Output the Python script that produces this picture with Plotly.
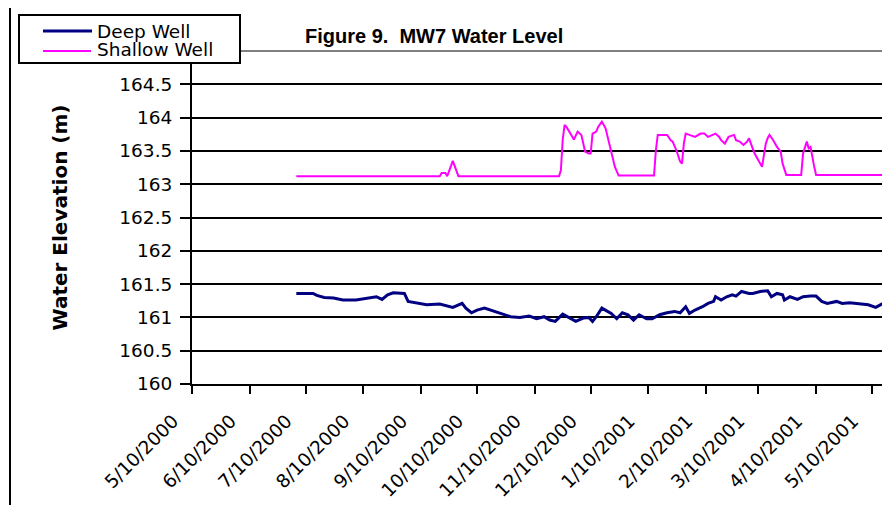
import plotly.graph_objects as go

# ---------------- data ----------------
deep_dates = [
    "2000-07-05", "2000-07-14", "2000-07-16", "2000-07-20", "2000-07-25", "2000-07-30",
    "2000-08-06", "2000-08-12", "2000-08-17", "2000-08-20", "2000-08-23", "2000-08-26",
    "2000-09-01", "2000-09-03", "2000-09-09", "2000-09-13", "2000-09-20", "2000-09-25",
    "2000-09-27", "2000-10-02", "2000-10-04", "2000-10-07", "2000-10-10", "2000-10-14",
    "2000-10-17", "2000-10-22", "2000-10-28", "2000-11-02", "2000-11-07", "2000-11-11",
    "2000-11-15", "2000-11-18", "2000-11-21", "2000-11-25", "2000-11-29", "2000-12-02",
    "2000-12-06", "2000-12-09", "2000-12-11", "2000-12-13", "2000-12-16", "2000-12-19",
    "2000-12-21", "2000-12-24", "2000-12-27", "2000-12-30", "2001-01-02", "2001-01-05",
    "2001-01-09", "2001-01-12", "2001-01-16", "2001-01-20", "2001-01-24", "2001-01-27",
    "2001-01-30", "2001-02-01", "2001-02-04", "2001-02-08", "2001-02-11", "2001-02-14",
    "2001-02-15", "2001-02-18", "2001-02-21", "2001-02-24", "2001-02-26", "2001-03-01",
    "2001-03-05", "2001-03-07", "2001-03-11", "2001-03-15", "2001-03-17", "2001-03-20",
    "2001-03-23", "2001-03-24", "2001-03-27", "2001-03-31", "2001-04-03", "2001-04-07",
    "2001-04-10", "2001-04-13", "2001-04-16", "2001-04-21", "2001-04-24", "2001-04-28",
    "2001-05-01", "2001-05-05", "2001-05-08", "2001-05-12", "2001-05-16", "2001-05-20",
]
deep_level = [
    161.36, 161.36, 161.33, 161.30, 161.29, 161.26,
    161.26, 161.29, 161.31, 161.27, 161.34, 161.37,
    161.36, 161.24, 161.21, 161.19, 161.20, 161.16,
    161.15, 161.21, 161.14, 161.07, 161.11, 161.14,
    161.11, 161.06, 161.01, 161.00, 161.02, 160.98,
    161.01, 160.96, 160.94, 161.05, 160.99, 160.94,
    160.99, 161.00, 160.94, 161.01, 161.14, 161.09,
    161.06, 160.98, 161.07, 161.04, 160.96, 161.04,
    160.98, 160.98, 161.04, 161.07, 161.09, 161.07,
    161.16, 161.06, 161.11, 161.16, 161.21, 161.24,
    161.31, 161.26, 161.31, 161.34, 161.32, 161.39,
    161.36, 161.36, 161.39, 161.40, 161.31, 161.36,
    161.34, 161.26, 161.31, 161.27, 161.31, 161.32,
    161.32, 161.24, 161.21, 161.24, 161.21, 161.22,
    161.21, 161.19, 161.19, 161.15, 161.21, 161.21,
]

shallow_dates = [
    "2000-07-05", "2000-09-20", "2000-09-21", "2000-09-23", "2000-09-24", "2000-09-27",
    "2000-09-30", "2000-11-23", "2000-11-24", "2000-11-25", "2000-11-26", "2000-11-27",
    "2000-12-01", "2000-12-03", "2000-12-05", "2000-12-07", "2000-12-09", "2000-12-10",
    "2000-12-11", "2000-12-13", "2000-12-14", "2000-12-16", "2000-12-18", "2000-12-20",
    "2000-12-21", "2000-12-23", "2000-12-25", "2001-01-13", "2001-01-14", "2001-01-15",
    "2001-01-20", "2001-01-22", "2001-01-23", "2001-01-25", "2001-01-27", "2001-01-28",
    "2001-01-29", "2001-01-30", "2001-02-01", "2001-02-04", "2001-02-07", "2001-02-09",
    "2001-02-11", "2001-02-13", "2001-02-15", "2001-02-17", "2001-02-18", "2001-02-20",
    "2001-02-22", "2001-02-25", "2001-02-26", "2001-02-28", "2001-03-02", "2001-03-04",
    "2001-03-05", "2001-03-06", "2001-03-08", "2001-03-10", "2001-03-12", "2001-03-13",
    "2001-03-14", "2001-03-15", "2001-03-16", "2001-03-18", "2001-03-20", "2001-03-22",
    "2001-03-23", "2001-03-25", "2001-04-02", "2001-04-03", "2001-04-05", "2001-04-06",
    "2001-04-07", "2001-04-09", "2001-04-10", "2001-05-20",
]
shallow_level = [
    163.12, 163.12, 163.17, 163.17, 163.12, 163.35,
    163.12, 163.12, 163.21, 163.67, 163.89, 163.86,
    163.67, 163.79, 163.74, 163.49, 163.46, 163.46,
    163.76, 163.79, 163.86, 163.94, 163.84, 163.59,
    163.51, 163.26, 163.13, 163.13, 163.51, 163.74,
    163.74, 163.66, 163.64, 163.51, 163.34, 163.31,
    163.61, 163.76, 163.74, 163.71, 163.76, 163.76,
    163.71, 163.74, 163.76, 163.71, 163.66, 163.61,
    163.71, 163.74, 163.66, 163.64, 163.59, 163.64,
    163.69, 163.61, 163.46, 163.36, 163.26, 163.44,
    163.61, 163.69, 163.74, 163.66, 163.56, 163.49,
    163.31, 163.14, 163.14, 163.46, 163.64, 163.54,
    163.56, 163.26, 163.14, 163.14,
]

x_tick_dates = [
    "2000-05-10", "2000-06-10", "2000-07-10", "2000-08-10", "2000-09-10", "2000-10-10",
    "2000-11-10", "2000-12-10", "2001-01-10", "2001-02-10", "2001-03-10", "2001-04-10",
    "2001-05-10",
]
x_tick_labels = [
    "5/10/2000", "6/10/2000", "7/10/2000", "8/10/2000", "9/10/2000", "10/10/2000",
    "11/10/2000", "12/10/2000", "1/10/2001", "2/10/2001", "3/10/2001", "4/10/2001",
    "5/10/2001",
]
y_tick_vals = [160, 160.5, 161, 161.5, 162, 162.5, 163, 163.5, 164, 164.5]
y_tick_labels = ["160", "160.5", "161", "161.5", "162", "162.5", "163", "163.5", "164", "164.5"]

series_names = ["Deep Well", "Shallow Well"]
series_colors = ["#000080", "#FF00FF"]
chart_title = "Figure 9.\u00a0 MW7 Water Level"
y_title = "Water Elevation (m)"

# ---------------- layout geometry ----------------
# The page body has an 8px margin, so the figure is drawn 8px right/down of the
# window corner. Positions below are given in window pixels and converted.
OFF = 8
WIN_W, WIN_H = 890, 505
W, H = WIN_W - OFF, WIN_H - OFF
PLOT_L, PLOT_T, PLOT_B = 192, 51, 384          # window pixels
ML, MT, MR = PLOT_L - OFF, PLOT_T - OFF, 0
MB = H - (PLOT_B - OFF)
PW, PH = W - ML - MR, H - MT - MB


def px(x):
    return (x - OFF - ML) / PW


def py(y):
    return (PLOT_B - y) / PH


TXT = dict(family="DejaVu Sans", size=18.5, color="black")

fig = go.Figure()
fig.add_trace(go.Scatter(x=deep_dates, y=deep_level, mode="lines", name=series_names[0],
                         line=dict(color=series_colors[0], width=3), showlegend=False))
fig.add_trace(go.Scatter(x=shallow_dates, y=shallow_level, mode="lines", name=series_names[1],
                         line=dict(color=series_colors[1], width=2), showlegend=False))

shapes = [
    # plot-area top border (gray)
    dict(type="line", xref="paper", yref="paper", x0=0, x1=1, y0=1, y1=1,
         line=dict(color="#808080", width=2), layer="below"),
    # outer chart border (top and left)
    dict(type="line", xref="paper", yref="paper", x0=px(10), x1=px(WIN_W + 5), y0=py(5), y1=py(5),
         line=dict(color="black", width=2)),
    dict(type="line", xref="paper", yref="paper", x0=px(10), x1=px(10), y0=py(5), y1=py(WIN_H + 5),
         line=dict(color="black", width=2)),
    # legend box
    dict(type="rect", xref="paper", yref="paper", x0=px(19), x1=px(240), y0=py(15), y1=py(63),
         fillcolor="white", line=dict(color="black", width=2), layer="above"),
    dict(type="line", xref="paper", yref="paper", x0=px(43), x1=px(92), y0=py(31), y1=py(31),
         line=dict(color=series_colors[0], width=3), layer="above"),
    dict(type="line", xref="paper", yref="paper", x0=px(43), x1=px(91), y0=py(51), y1=py(51),
         line=dict(color=series_colors[1], width=2), layer="above"),
]

annotations = [
    dict(text=series_names[0], xref="paper", yref="paper", x=px(95), y=py(31),
         xanchor="left", yanchor="middle", showarrow=False, font=TXT),
    dict(text=series_names[1], xref="paper", yref="paper", x=px(95), y=py(50),
         xanchor="left", yanchor="middle", showarrow=False, font=TXT),
]

fig.update_layout(
    width=W, height=H,
    margin=dict(l=ML, r=MR, t=MT, b=MB, autoexpand=False),
    paper_bgcolor="white", plot_bgcolor="white",
    showlegend=False,
    title=dict(text=chart_title, xref="container", yref="container",
               x=(305 - OFF) / W, y=1 - (36 - OFF) / H, xanchor="left", yanchor="middle",
               font=dict(family="Liberation Sans", size=20, color="black", weight="bold")),
    xaxis=dict(type="date", range=["2000-05-10", "2001-05-19 16:00"],
               tickmode="array", tickvals=x_tick_dates, ticktext=x_tick_labels,
               tickangle=-45, ticks="outside", ticklen=8, tickwidth=1.5, tickcolor="black",
               ticklabelstandoff=9, ticklabelshift=-19,
               showline=True, linecolor="black", linewidth=2, showgrid=False, zeroline=False,
               tickfont=TXT),
    yaxis=dict(range=[160, 165], tickmode="array", tickvals=y_tick_vals, ticktext=y_tick_labels,
               ticks="outside", ticklen=10, tickwidth=1.5, tickcolor="black",
               ticklabelstandoff=4,
               showline=True, linecolor="black", linewidth=2,
               showgrid=True, gridcolor="black", gridwidth=1.5, zeroline=False,
               tickfont=TXT,
               title=dict(text=y_title, standoff=46,
                          font=dict(family="DejaVu Sans", size=20, color="black", weight="bold"))),
    shapes=shapes,
    annotations=annotations,
)

fig.write_html("out.html")
